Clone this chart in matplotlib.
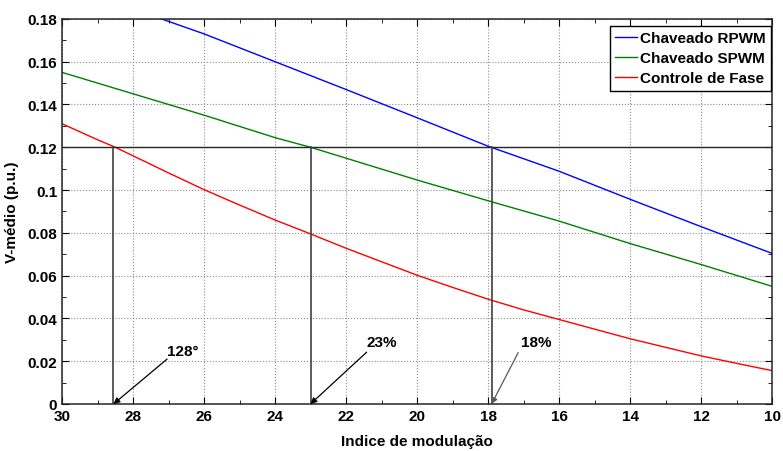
import matplotlib.pyplot as plt
from matplotlib.ticker import MultipleLocator, FormatStrFormatter

plt.rcParams['font.family'] = ['Liberation Sans', 'DejaVu Sans']

# curves
x_rpwm = [28.0, 27.2, 26, 24, 22, 20, 18, 16, 14, 12, 10]
v_rpwm = [0.185, 0.18, 0.173, 0.160, 0.147, 0.1338, 0.1205, 0.1088, 0.0957, 0.0829, 0.0704]

x_spwm = [30, 28, 26, 24, 23, 22, 20, 18, 16, 14, 12, 10]
v_spwm = [0.155, 0.145, 0.135, 0.1245, 0.120, 0.1149, 0.1047, 0.0950, 0.0855, 0.0750, 0.0652, 0.0550]

x_fase = [30, 29, 28.5, 28, 27, 26, 25, 24, 23, 22, 21, 20, 19, 18, 17, 16, 15, 14, 13, 12, 11, 10]
v_fase = [0.131, 0.1235, 0.120, 0.116, 0.108, 0.1002, 0.093, 0.086, 0.0795, 0.0728, 0.0665, 0.0602,
          0.0545, 0.049, 0.044, 0.0395, 0.035, 0.0305, 0.0265, 0.0225, 0.019, 0.0156]

nivel = 0.12
cortes = [28.55, 23.0, 17.9]
rotulos = ["128°", "23%", "18%"]
pos_texto = [(26.6, 0.0248), (21.0, 0.0288), (16.63, 0.0288)]
pos_seta = [(27.04, 0.021), (21.42, 0.0242), (17.15, 0.024)]
cor_seta = ["black", "black", "0.35"]

fig = plt.figure(figsize=(7.83, 4.52), dpi=100)
ax = fig.add_axes([0.0792, 0.104, 0.9068, 0.852])

ax.plot(x_rpwm, v_rpwm, color="#0000ff", linewidth=1.0, label="Chaveado RPWM")
ax.plot(x_spwm, v_spwm, color="#008000", linewidth=1.0, label="Chaveado SPWM")
ax.plot(x_fase, v_fase, color="#ff0000", linewidth=1.0, label="Controle de Fase")

ax.axhline(nivel, color="0.15", linewidth=1.0)
for xc in cortes:
    ax.plot([xc, xc], [0, nivel], color="0.25", linewidth=1.2)

for txt, (tx, ty), (sx, sy), xc, c in zip(rotulos, pos_texto, pos_seta, cortes, cor_seta):
    ax.annotate("", xy=(xc, 0), xytext=(sx, sy),
                arrowprops=dict(arrowstyle="-|>", color=c, linewidth=0.9,
                                mutation_scale=9, shrinkA=0, shrinkB=0))
    ax.text(tx, ty, txt, fontsize=11, fontweight="bold", ha="center", va="center")

ax.set_xlim(30, 10)
ax.set_ylim(0, 0.18)
ax.xaxis.set_major_locator(MultipleLocator(2))
ax.xaxis.set_minor_locator(MultipleLocator(1))
ax.yaxis.set_major_locator(MultipleLocator(0.02))
ax.yaxis.set_minor_locator(MultipleLocator(0.01))
ax.yaxis.set_major_formatter(FormatStrFormatter("%g"))
ax.xaxis.set_major_formatter(FormatStrFormatter("%g"))
ax.tick_params(which="both", direction="in", top=True, right=True)
ax.tick_params(which="major", length=5, labelsize=11)
ax.tick_params(which="minor", length=3)
for lab in ax.get_xticklabels() + ax.get_yticklabels():
    lab.set_fontweight("bold")
ax.grid(which="major", color="0.55", linestyle=":", linewidth=0.8)
for s in ax.spines.values():
    s.set_linewidth(1.1)
    s.set_color("0.15")

ax.set_xlabel("Indice de modulação", fontsize=11, fontweight="bold", labelpad=8)
ax.set_ylabel("V-médio (p.u.)", fontsize=11, fontweight="bold", labelpad=6)

leg = ax.legend(loc="upper right", bbox_to_anchor=(0.998, 0.982),
                prop={"weight": "bold", "size": 11}, fancybox=False, framealpha=1,
                edgecolor="black", handlelength=1.4, handletextpad=0.2,
                borderpad=0.35, labelspacing=0.4, borderaxespad=0.0)
leg.get_frame().set_linewidth(1.0)

fig.savefig("out.png", dpi=100)
